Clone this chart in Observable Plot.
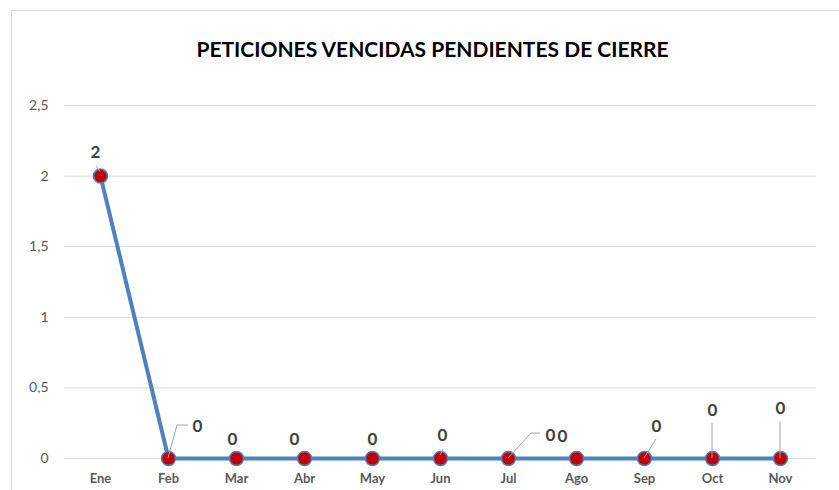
<!DOCTYPE html>
<html><head><meta charset="utf-8">
<script src="https://cdn.jsdelivr.net/npm/d3@7"></script>
<script src="https://cdn.jsdelivr.net/npm/@observablehq/plot@0.6"></script>
<style>
body{margin:0;background:#fff;}
#wrap{position:relative;width:839px;height:490px;overflow:hidden;background:#fff;}
#border{position:absolute;left:11px;top:10px;width:900px;height:600px;border:1px solid #d9d9d9;box-sizing:border-box;pointer-events:none;}
</style></head><body>
<div id="wrap"><div id="chart"></div><div id="border"></div></div>
<script>
const title = "PETICIONES VENCIDAS PENDIENTES DE CIERRE";
const months = ["Ene","Feb","Mar","Abr","May","Jun","Jul","Ago","Sep","Oct","Nov"];
const values = [2,0,0,0,0,0,0,0,0,0,0];
const yTicks = [0,0.5,1,1.5,2,2.5];
// data-label placement (pixel offsets from each point)
const labelDx = [-5,29,-4,-10,0,2,42,-14,12,0,0];
const labelDy = [-24,-32,-19,-19,-19,-23,-23,-22,-32,-48,-50];
// leader lines (pixel offsets from each point), null = none
const leaders = [
  [[-4,-10],[0,-4]],
  [[0,0],[9,-33],[20,-33]],
  null, null, null,
  [[0,-3],[3,-9]],
  [[0,0],[23,-25],[32,-25]],
  null,
  [[0,0],[12,-19]],
  [[0,0],[0,-35]],
  [[0,0],[0,-36]]
];

const data = months.map((m,i)=>({month:m, value:values[i]}));
const font = "Lato, 'Open Sans', sans-serif";
const fmt = d => String(d).replace(".", ",");

const labelMarks = data.map((d,i)=>Plot.text([d], {
  x:"month", y:"value", text: d=>fmt(d.value),
  dx: labelDx[i], dy: labelDy[i],
  fontSize:17, fontWeight:"bold", fill:"#404040"
}));

const plot = Plot.plot({
  width:839, height:490,
  marginLeft:64, marginRight:23, marginTop:105, marginBottom:32,
  style:{fontFamily:font, background:"transparent", overflow:"visible"},
  x:{type:"point", domain:months, padding:0.5, label:null},
  y:{domain:[0,2.5], label:null},
  marks:[
    Plot.gridY(yTicks, {stroke:"#d9d9d9", strokeOpacity:1, strokeWidth:1}),
    Plot.axisY(yTicks, {tickSize:0, tickPadding:16, tickFormat:fmt, fontSize:14, fill:"#595959", label:null}),
    Plot.axisX({tickSize:0, tickPadding:15, fontSize:13, fontWeight:"bold", fill:"#595959", label:null}),
    Plot.line(data, {x:"month", y:"value", stroke:"#4f81bd", strokeWidth:4}),
    Plot.dot(data, {x:"month", y:"value", r:7, fill:"#c00000", stroke:"#4f81bd", strokeWidth:1.5}),
    ...labelMarks,
    Plot.text([title], {frameAnchor:"top", dx:-8, dy:-63, fontSize:21, fontWeight:"bold", fill:"#000", text:d=>d})
  ]
});
document.getElementById("chart").appendChild(plot);

const xs = plot.scale("x"), ys = plot.scale("y");
const g = d3.select(plot).append("g").attr("fill","none").attr("stroke","#a6a6a6").attr("stroke-width",1);
data.forEach((d,i)=>{
  if(!leaders[i]) return;
  const px = xs.apply(d.month), py = ys.apply(d.value);
  g.append("path").attr("d", d3.line()(leaders[i].map(([a,b])=>[px+a,py+b])));
});
</script>
</body></html>
